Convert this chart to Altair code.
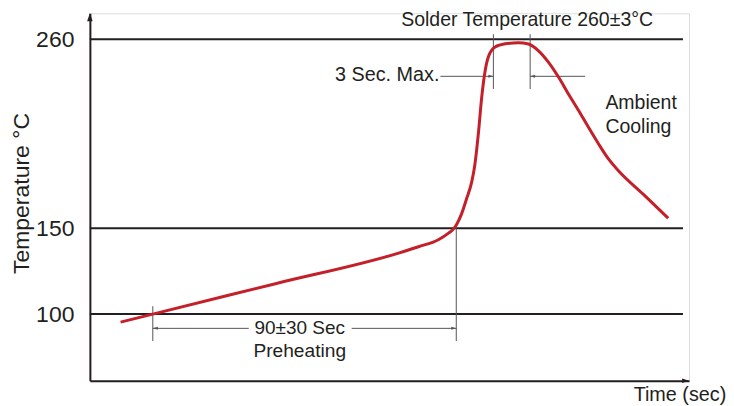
import altair as alt
import pandas as pd

# ---- data (time in s, temperature in °C) ----
curve_t = [9.1, 18.65, 55.0, 91.5, 97.4, 103.3, 106.3, 107.8, 108.7, 110.2, 111.7, 113.2,
           114.1, 115.2, 116.1, 117.1, 118.1, 120.1, 123.1, 127.0, 130.0, 132.9, 135.9,
           138.9, 141.8, 144.8, 147.7, 150.7, 153.6, 156.6, 164.0, 171.4]
curve_T = [95.3, 100.0, 117.7, 135.5, 139.2, 143.3, 147.1, 149.6, 152.2, 158.5, 167.4, 177.1,
           186.8, 206.1, 225.4, 240.9, 249.6, 255.4, 257.3, 257.9, 257.2, 253.4, 246.7,
           238.0, 228.3, 218.7, 209.0, 199.3, 190.6, 183.6, 169.8, 155.8]

level_values = [100, 150, 260]
level_end_t = 175.8

x_domain = [0, 177.6]
y_domain = [61.2, 275.1]

# dimension lines (x, y, x2, y2)
dim_x = [18.65, 108.6, 119.6, 130.5, 18.65, 77.6, 103.9, 130.5]
dim_x2 = [18.65, 108.6, 119.6, 130.5, 47.1, 108.6, 119.6, 146.8]
dim_y = [104.6, 150.0, 262.9, 262.9, 91.7, 91.7, 238.4, 238.4]
dim_y2 = [84.3, 84.3, 231.0, 231.0, 91.7, 91.7, 238.4, 238.4]

# arrow heads on dimension lines
arrow_t = [18.65, 108.6, 119.6, 130.5]
arrow_T = [91.7, 91.7, 238.4, 238.4]
arrow_dir = ["left", "right", "right", "left"]

# annotation texts
ann_text = ["Solder Temperature 260±3°C", "3 Sec. Max.", "Ambient", "Cooling",
            "90±30 Sec", "Preheating"]
ann_t = [129.6, 103.6, 152.8, 152.8, 62.2, 62.2]
ann_T = [271.2, 239.2, 222.6, 209.0, 91.9, 78.6]
ann_align = ["center", "right", "left", "left", "center", "center"]
ann_size = [19.5, 19.8, 19.5, 19.5, 19, 19.2]

INK = "#231f20"
RED = "#c4202a"
GRAY = "#555555"
FONT = "Liberation Sans"

xs = alt.Scale(domain=x_domain, nice=False, zero=False)
ys = alt.Scale(domain=y_domain, nice=False, zero=False)

x_axis = alt.Axis(title="Time (sec)", labels=False, ticks=False, grid=False,
                  domainColor=INK, domainWidth=2, titleFontSize=19.8,
                  titleFontWeight="normal", titleColor=INK, titleFont=FONT,
                  titleX=544, titleY=4, titleAlign="left", titleBaseline="top",
                  titleAnchor="start")
y_axis = alt.Axis(title="Temperature °C", values=level_values, ticks=False, grid=False,
                  domainColor=INK, domainWidth=2, labelFontSize=23, labelColor=INK,
                  labelFont=FONT, labelPadding=16, titleFontSize=23,
                  titleFontWeight="normal", titleColor=INK, titleFont=FONT,
                  titlePadding=2, titleY=180)

curve_df = pd.DataFrame({"t": curve_t, "T": curve_T})
levels_df = pd.DataFrame({"T": level_values, "t0": [0] * 3, "t1": [level_end_t] * 3})
dim_df = pd.DataFrame({"x": dim_x, "x2": dim_x2, "y": dim_y, "y2": dim_y2})
arrow_df = pd.DataFrame({"t": arrow_t, "T": arrow_T, "d": arrow_dir})
ann_df = pd.DataFrame({"text": ann_text, "t": ann_t, "T": ann_T, "align": ann_align,
                       "size": ann_size})
axis_arrow_df = pd.DataFrame({"t": [x_domain[0], x_domain[1]],
                              "T": [y_domain[1], y_domain[0]],
                              "d": ["up", "right"]})

base_levels = alt.Chart(levels_df).mark_rule(color=INK, strokeWidth=2).encode(
    x=alt.X("t0:Q", scale=xs, axis=x_axis),
    x2="t1:Q",
    y=alt.Y("T:Q", scale=ys, axis=y_axis),
)

dims = alt.Chart(dim_df).mark_rule(color=GRAY, strokeWidth=1).encode(
    x=alt.X("x:Q", scale=xs), x2="x2:Q",
    y=alt.Y("y:Q", scale=ys), y2="y2:Q",
)

head_right = "M0,0L-1,-0.3L-1,0.3Z"
head_left = "M0,0L1,-0.3L1,0.3Z"
arrows_r = alt.Chart(arrow_df).transform_filter(alt.datum.d == "right").mark_point(
    shape=head_right, filled=True, color=GRAY, size=100, opacity=1
).encode(x=alt.X("t:Q", scale=xs), y=alt.Y("T:Q", scale=ys))
arrows_l = alt.Chart(arrow_df).transform_filter(alt.datum.d == "left").mark_point(
    shape=head_left, filled=True, color=GRAY, size=100, opacity=1
).encode(x=alt.X("t:Q", scale=xs), y=alt.Y("T:Q", scale=ys))

curve = alt.Chart(curve_df).mark_line(color=RED, strokeWidth=3, interpolate="monotone").encode(
    x=alt.X("t:Q", scale=xs), y=alt.Y("T:Q", scale=ys), order="t:Q"
)

texts = []
for al in ["center", "right", "left"]:
    texts.append(
        alt.Chart(ann_df).transform_filter(alt.datum.align == al).mark_text(
            align=al, baseline="middle", font=FONT, color=INK
        ).encode(x=alt.X("t:Q", scale=xs), y=alt.Y("T:Q", scale=ys), text="text:N",
                 size=alt.Size("size:Q", scale=None, legend=None))
    )

ax_up = alt.Chart(axis_arrow_df).transform_filter(alt.datum.d == "up").mark_point(
    shape="M0,0L-0.35,1L0.35,1Z", filled=True, color=INK, size=256, opacity=1
).encode(x=alt.X("t:Q", scale=xs), y=alt.Y("T:Q", scale=ys))
ax_right = alt.Chart(axis_arrow_df).transform_filter(alt.datum.d == "right").mark_point(
    shape="M0,0L-1,-0.33L-1,0.33Z", filled=True, color=INK, size=196, opacity=1
).encode(x=alt.X("t:Q", scale=xs), y=alt.Y("T:Q", scale=ys))

chart = alt.layer(base_levels, dims, arrows_r, arrows_l, curve, *texts, ax_up, ax_right).properties(
    width=600, height=368,
    padding={"left": 2, "top": 1, "right": 0, "bottom": 0},
).configure_view(stroke=None).configure(font=FONT)

chart.save("out.html", embed_options={"renderer": "svg", "actions": False})
